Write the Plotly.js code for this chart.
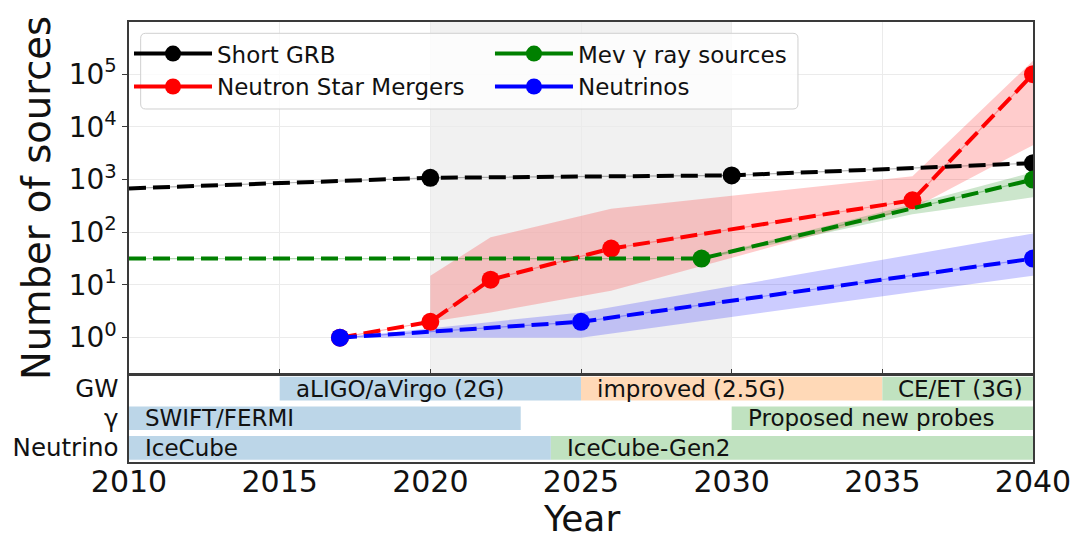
<!DOCTYPE html>
<html><head><meta charset="utf-8">
<script src="https://cdn.plot.ly/plotly-3.0.1.min.js"></script>
<style>html,body{margin:0;padding:0;background:#fff}#chart{width:1077px;height:535px}</style>
</head><body><div id="chart"></div>
<script>
// ---- data ----
const grbYears = [2010, 2020, 2030, 2040];
const grbValues = [680, 1080, 1200, 2050];
const grbMarkerSizes = [0, 18, 18, 18];

const nsmYears = [2017, 2020, 2022, 2026, 2036, 2040];
const nsmValues = [1, 2, 12.6, 49, 405, 100000];
const nsmBandYears = [2020, 2022, 2026, 2036, 2040];
const nsmBandLow = [2, 3, 7.8, 280, 4500];
const nsmBandHigh = [15, 80, 280, 1150, 180000];

const mevYears = [2010, 2029, 2040];
const mevValues = [31.6, 31.6, 1000];
const mevMarkerSizes = [0, 18, 18];
const mevBandYears = [2029, 2036, 2040];
const mevBandLow = [30, 220, 460];
const mevBandHigh = [33, 340, 1370];

const nuYears = [2017, 2025, 2040];
const nuValues = [1, 2, 31.6];
const nuBandYears = [2017, 2025, 2040];
const nuBandLow = [1, 1, 15];
const nuBandHigh = [1, 3, 95];

const seriesNames = ['Short GRB', 'Neutron Star Mergers', 'Mev \u03b3 ray sources', 'Neutrinos'];
const xTitle = 'Year';
const yTitle = 'Number of sources';

const yTickVals = [1, 10, 100, 1000, 10000, 100000];
const yTickText = ['10<sup>0</sup>', '10<sup>1</sup>', '10<sup>2</sup>', '10<sup>3</sup>', '10<sup>4</sup>', '10<sup>5</sup>'];
const xTickVals = [2010, 2015, 2020, 2025, 2030, 2035, 2040];

const rowCategories = ['Neutrino', '\u03b3', 'GW'];
const facilityRows = ['GW', 'GW', 'GW', '\u03b3', '\u03b3', 'Neutrino', 'Neutrino'];
const facilityNames = ['aLIGO/aVirgo (2G)', 'improved (2.5G)', 'CE/ET (3G)', 'SWIFT/FERMI', 'Proposed new probes', 'IceCube', 'IceCube-Gen2'];
const facilityStart = [2015, 2025, 2035, 2010, 2030, 2010, 2024];
const facilityEnd = [2025, 2035, 2040, 2023, 2040, 2024, 2040];
const facilityPhase = ['current', 'upgrade', 'future', 'current', 'future', 'current', 'future'];

// ---- styles ----
const FONT = 'DejaVu Sans, sans-serif';
const phaseColor = {current: '#bcd6e8', upgrade: '#ffd9b7', future: '#c0e2c0'};
const DASH = '17px,7px';

function band(xs, lo, hi, color) {
  return {
    x: xs.concat(xs.slice().reverse()),
    y: lo.concat(hi.slice().reverse()),
    xaxis: 'x', yaxis: 'y', type: 'scatter', mode: 'lines',
    fill: 'toself', fillcolor: color, line: {width: 0},
    hoverinfo: 'skip', showlegend: false
  };
}
function thinLine(xs, ys, color) {
  return {
    x: xs, y: ys, xaxis: 'x', yaxis: 'y', type: 'scatter', mode: 'lines',
    line: {color: color, width: 1.2}, hoverinfo: 'skip', showlegend: false
  };
}
function series(xs, ys, color, sizes) {
  return {
    x: xs, y: ys, xaxis: 'x', yaxis: 'y', type: 'scatter', mode: 'lines+markers',
    line: {color: color, width: 4, dash: DASH},
    marker: {color: color, size: sizes || 18, opacity: 1, line: {width: 0}},
    showlegend: false
  };
}
function legendEntry(name, color, legend) {
  return {
    x: [null], y: [null], xaxis: 'x', yaxis: 'y', type: 'scatter', mode: 'lines+markers',
    name: name, legend: legend,
    line: {color: color, width: 4}, marker: {color: color, size: 16, line: {width: 0}}
  };
}

const traces = [
  band(nsmBandYears, nsmBandLow, nsmBandHigh, 'rgba(255,0,0,0.2)'),
  band(mevBandYears, mevBandLow, mevBandHigh, 'rgba(0,128,0,0.2)'),
  band(nuBandYears, nuBandLow, nuBandHigh, 'rgba(0,0,255,0.2)'),
  thinLine(grbYears, grbValues, 'rgba(0,0,0,0.3)'),
  thinLine(nsmYears, nsmValues, 'rgba(255,0,0,0.3)'),
  thinLine(mevYears, mevValues, 'rgba(0,128,0,0.3)'),
  thinLine(nuYears, nuValues, 'rgba(0,0,255,0.3)'),
  series(grbYears, grbValues, '#000000', grbMarkerSizes),
  series(nsmYears, nsmValues, '#ff0000'),
  series(mevYears, mevValues, '#008000', mevMarkerSizes),
  series(nuYears, nuValues, '#0000ff'),
  legendEntry(seriesNames[0], '#000000', 'legend'),
  legendEntry(seriesNames[1], '#ff0000', 'legend'),
  legendEntry(seriesNames[2], '#008000', 'legend2'),
  legendEntry(seriesNames[3], '#0000ff', 'legend2'),
  {
    type: 'bar', orientation: 'h', xaxis: 'x2', yaxis: 'y2',
    y: facilityRows,
    base: facilityStart,
    x: facilityEnd.map((e, i) => e - facilityStart[i]),
    width: 0.8,
    marker: {color: facilityPhase.map(p => phaseColor[p]), line: {width: 0}},
    hoverinfo: 'skip', showlegend: false
  }
];

const annotations = facilityNames.map((name, i) => ({
  xref: 'x2', yref: 'y2',
  x: facilityStart[i], y: rowCategories.indexOf(facilityRows[i]),
  text: name, showarrow: false, xanchor: 'left', yanchor: 'middle', xshift: 14,
  font: {family: FONT, size: 23, color: '#111'}
}));
// x-axis title drawn as an annotation so it can sit exactly where the reference puts it
annotations.push({
  xref: 'paper', yref: 'paper', x: 0.5, y: -0.078, xanchor: 'center', yanchor: 'top',
  text: xTitle, showarrow: false, font: {family: FONT, size: 36, color: '#111'}
});

// rounded legend frame (paper coords)
const bx0 = 0.0129, bx1 = 0.740, by0 = 0.8023, by1 = 0.9743, rx = 5 / 904, ry = 5 / 440;
const legendPath = `M${bx0 + rx},${by0} L${bx1 - rx},${by0} Q${bx1},${by0} ${bx1},${by0 + ry} ` +
  `L${bx1},${by1 - ry} Q${bx1},${by1} ${bx1 - rx},${by1} L${bx0 + rx},${by1} Q${bx0},${by1} ${bx0},${by1 - ry} ` +
  `L${bx0},${by0 + ry} Q${bx0},${by0} ${bx0 + rx},${by0} Z`;

const frame = '#3a3a3a';
const legendFont = {family: FONT, size: 23, color: '#111'};
const layout = {
  width: 1077, height: 535,
  margin: {l: 129, r: 44, t: 22, b: 73},
  paper_bgcolor: '#fff', plot_bgcolor: '#fff',
  font: {family: FONT, color: '#111'},
  showlegend: true,
  xaxis: {
    domain: [0, 1], anchor: 'y', range: [2010, 2040],
    tickvals: xTickVals, showticklabels: false, ticks: 'inside', ticklen: 5, tickcolor: frame,
    showgrid: true, gridcolor: '#ebebeb', gridwidth: 1, zeroline: false,
    showline: true, linecolor: frame, linewidth: 1.6, mirror: true, automargin: false
  },
  yaxis: {
    domain: [0.2, 1], anchor: 'x', type: 'log', range: [-0.69, 5.99],
    tickvals: yTickVals, ticktext: yTickText, ticks: 'outside', ticklen: 5, tickcolor: frame,
    tickfont: {family: FONT, size: 28, color: '#111'},
    showgrid: true, gridcolor: '#ebebeb', gridwidth: 1, zeroline: false,
    showline: true, linecolor: frame, linewidth: 1.6, mirror: true, automargin: false,
    title: {text: yTitle, font: {family: FONT, size: 38.5, color: '#111'}, standoff: 6}
  },
  xaxis2: {
    domain: [0, 1], anchor: 'y2', range: [2010, 2040], matches: 'x',
    tickvals: xTickVals, ticks: '', ticklabelstandoff: -8, showgrid: false, zeroline: false,
    tickfont: {family: FONT, size: 30, color: '#111'},
    showline: true, linecolor: frame, linewidth: 1.6, mirror: true, automargin: false
  },
  yaxis2: {
    domain: [0, 0.199], anchor: 'x2', type: 'category',
    categoryorder: 'array', categoryarray: rowCategories, range: [-0.48, 2.48],
    ticks: '', ticklabelstandoff: 4, showgrid: false, zeroline: false,
    tickfont: {family: FONT, size: 24.5, color: '#111'},
    showline: true, linecolor: frame, linewidth: 1.6, mirror: true, automargin: false
  },
  legend: {
    x: 0, y: 0.977, xanchor: 'left', yanchor: 'top', orientation: 'v',
    bgcolor: 'rgba(0,0,0,0)', borderwidth: 0, itemwidth: 78, font: legendFont
  },
  legend2: {
    x: 0.3993, y: 0.977, xanchor: 'left', yanchor: 'top', orientation: 'v',
    bgcolor: 'rgba(0,0,0,0)', borderwidth: 0, itemwidth: 78, font: legendFont
  },
  shapes: [
    {type: 'rect', xref: 'x', yref: 'y domain', x0: 2020, x1: 2030, y0: 0, y1: 1,
     fillcolor: 'rgba(128,128,128,0.11)', line: {width: 0}, layer: 'below'},
    {type: 'path', xref: 'paper', yref: 'paper', path: legendPath,
     fillcolor: 'rgba(255,255,255,0.8)', line: {color: '#d0d0d0', width: 1}, layer: 'above'}
  ],
  annotations: annotations
};

Plotly.newPlot('chart', traces, layout, {staticPlot: true, displayModeBar: false});
</script>
</body></html>
